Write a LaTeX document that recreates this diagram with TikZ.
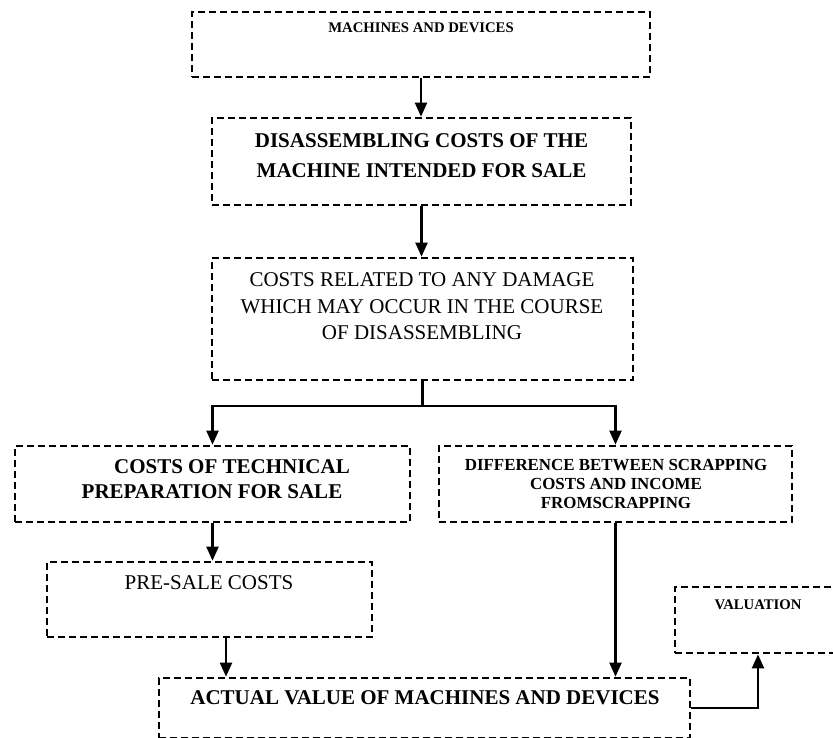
\documentclass[tikz,border=0pt]{standalone}
\usepackage{fontspec}
\setmainfont{Liberation Serif}
\usetikzlibrary{arrows.meta}
\usetikzlibrary{positioning}

\begin{document}
\begin{tikzpicture}[x=1pt, y=-1pt,
  dbox/.style={draw=black, line width=2.7pt, dash pattern=on 7pt off 4pt, inner sep=0pt},
  bigtxt/.style={font=\fontsize{21}{#1}\selectfont, align=center, inner sep=0pt},
  bigbold/.style={font=\fontsize{21}{#1}\selectfont\bfseries, align=center, inner sep=0pt},
  smalltxt/.style={font=\fontsize{14.7}{18}\selectfont\bfseries, align=center, inner sep=0pt},
  line/.style={draw=black, line width=2.2pt},
  arr/.style={line, -{Triangle[width=12pt, length=14pt]}}]

\useasboundingbox (0,0) rectangle (833,737);
\clip (0,0) rectangle (833,737);

% dashed boxes
\node[dbox, minimum width=458, minimum height=65]  (mach) at (421,44.5) {};
\node[dbox, minimum width=419, minimum height=87]  (dis)  at (421.5,161.5) {};
\node[dbox, minimum width=421, minimum height=122] (dmg)  at (422.5,319) {};
\node[dbox, minimum width=395, minimum height=76]  (tech) at (212.5,484) {};
\node[dbox, minimum width=353, minimum height=76]  (diff) at (615.5,484) {};
\node[dbox, minimum width=325, minimum height=75]  (pre)  at (209.5,599.5) {};
\node[dbox, minimum width=531, minimum height=60]  (act)  at (424.5,708) {};
\node[dbox, minimum width=166, minimum height=66]  (val)  at (758,620) {};

% texts
\node[smalltxt] (machtxt) at (421,28) {MACHINES AND DEVICES};
\node[bigbold=30] (distxt) at (421.5,156) {DISASSEMBLING COSTS OF THE\\MACHINE INTENDED FOR SALE};
\node[bigtxt=26.5] (dmgtxt) at (422,306.5) {COSTS RELATED TO ANY DAMAGE\\WHICH MAY OCCUR IN THE COURSE\\OF DISASSEMBLING};
\node[bigbold=25] (techtxt) at (212,479.5) {\hspace*{40pt}COSTS OF TECHNICAL\\PREPARATION FOR SALE};
\node[bigbold=19, font=\fontsize{16.9}{19}\selectfont\bfseries] (difftxt) at (616,484) {DIFFERENCE BETWEEN SCRAPPING\\COSTS AND INCOME\\FROMSCRAPPING};
\node[bigtxt=25] (pretxt) at (209,583) {PRE-SALE COSTS};
\node[bigbold=25] (acttxt) at (425,698) {ACTUAL VALUE OF MACHINES AND DEVICES};
\node[smalltxt] (valtxt) at (758,605) {VALUATION};

% connectors
\draw[arr] (mach.south) -- (mach.south |- dis.north);
\draw[arr] (dis.south) -- (dis.south |- dmg.north);
\draw[line] (dmg.south) -- ++(0,25) coordinate (split);
\draw[arr] (split) -| (tech.north);
\draw[arr] (split) -| (diff.north);
\draw[arr] (tech.south) -- (tech.south |- pre.north);
\draw[arr] ([xshift=16.5pt]pre.south) -- ([xshift=16.5pt]pre.south |- act.north);
\draw[arr] (diff.south) -- (diff.south |- act.north);
\draw[arr] (act.east) -| (val.south);

\end{tikzpicture}
\end{document}
